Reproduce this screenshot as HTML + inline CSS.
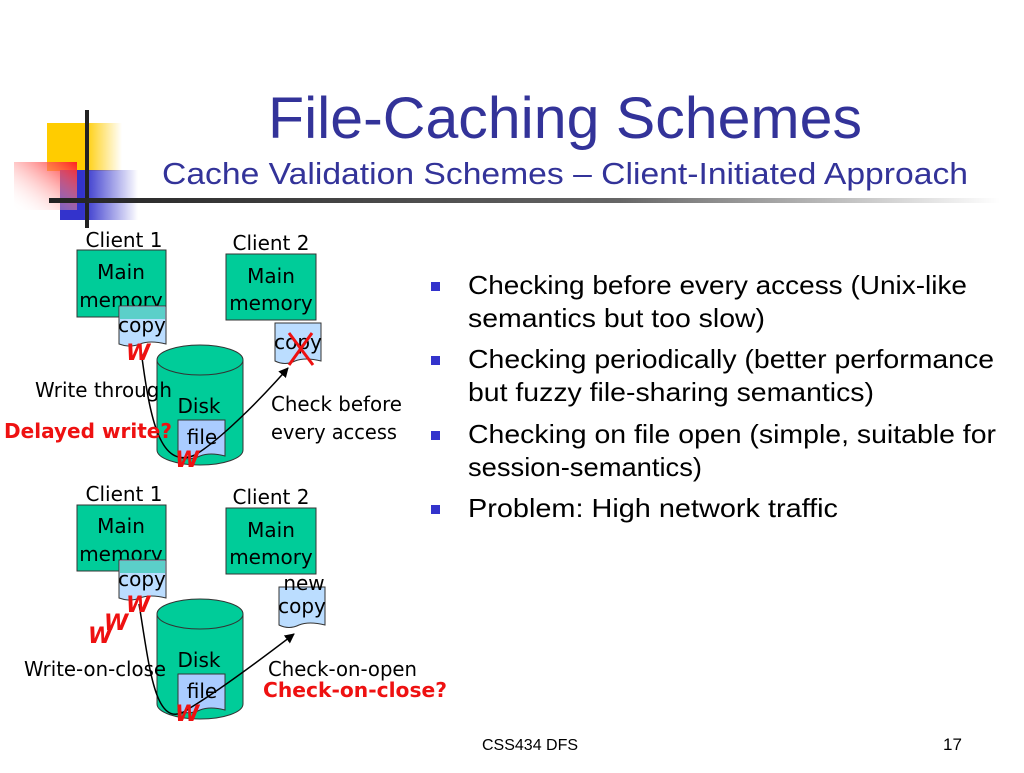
<!DOCTYPE html>
<html><head><meta charset="utf-8"><style>
body{margin:0;width:1024px;height:768px;background:#fff;overflow:hidden;font-family:"Liberation Sans",sans-serif}
</style></head><body>
<svg width="1024" height="768" xmlns="http://www.w3.org/2000/svg" font-family="Liberation Sans, sans-serif">
<defs>
<linearGradient id="gy" x1="0" x2="1"><stop offset="0.5" stop-color="#ffcc00"/><stop offset="1" stop-color="#ffcc00" stop-opacity="0"/></linearGradient>
<linearGradient id="gb" x1="0" x2="1"><stop offset="0.3" stop-color="#3333cc"/><stop offset="1" stop-color="#3333cc" stop-opacity="0"/></linearGradient>
<linearGradient id="gr" x1="1" y1="0" x2="0" y2="1"><stop offset="0" stop-color="#ff2020"/><stop offset="1" stop-color="#ffffff" stop-opacity="0"/></linearGradient>
<linearGradient id="gl" x1="0" x2="1"><stop offset="0" stop-color="#222"/><stop offset="0.6" stop-color="#666"/><stop offset="1" stop-color="#fff"/></linearGradient>
<marker id="ar" markerWidth="10" markerHeight="10" refX="9" refY="5" orient="auto" markerUnits="userSpaceOnUse"><path d="M0,0 L10,5 L0,10 z" fill="#000"/></marker>
</defs>
<rect x="47" y="123" width="75" height="48" fill="url(#gy)"/>
<rect x="60" y="170" width="78" height="50" fill="url(#gb)"/>
<rect x="14" y="162" width="63" height="48" fill="url(#gr)"/>
<rect x="85" y="110" width="4" height="118" fill="#222"/>
<rect x="49" y="198" width="951" height="5" fill="url(#gl)"/>
<text x="268" y="138" font-size="58" fill="#333399" textLength="594" lengthAdjust="spacingAndGlyphs">File-Caching Schemes</text>
<text x="162" y="184" font-size="31" fill="#333399" textLength="806" lengthAdjust="spacingAndGlyphs">Cache Validation Schemes – Client-Initiated Approach</text>

<g font-family="DejaVu Sans, sans-serif" font-size="20">
<text x="124" y="247" text-anchor="middle">Client 1</text>
<rect x="77" y="250" width="89" height="67" fill="#00cc99" stroke="#333"/>
<text x="121" y="279" text-anchor="middle">Main</text>
<text x="121" y="307" text-anchor="middle">memory</text>
<path d="M119,306 H166 V344 Q150,340 140,344 Q130,348 119,344 Z" fill="#bbddff" stroke="#333"/>
<rect x="120" y="307" width="45" height="12" fill="#44ccbb" opacity="0.8"/>
<text x="142" y="332" text-anchor="middle">copy</text>
<text x="271" y="250" text-anchor="middle">Client 2</text>
<rect x="226" y="254" width="90" height="66" fill="#00cc99" stroke="#333"/>
<text x="271" y="283" text-anchor="middle">Main</text>
<text x="271" y="310" text-anchor="middle">memory</text>
<path d="M275,323 H321 V361 Q305,357 295,361 Q285,366 275,361 Z" fill="#bbddff" stroke="#333"/>
<text x="298" y="349" text-anchor="middle">copy</text>
<path d="M289,333 L313,365 M312,333 L289,365" stroke="#ee1111" stroke-width="3"/>
<path d="M157,360 V450 A43,15 0 0 0 243,450 V360" fill="#00cc99" stroke="#333"/>
<ellipse cx="200" cy="360" rx="43" ry="15" fill="#00cc99" stroke="#333"/>
<text x="199" y="413" text-anchor="middle">Disk</text>
<path d="M178,420 H225 V456 Q210,452 200,456 Q190,461 178,457 Z" fill="#aaccff" stroke="#333"/>
<text x="202" y="444" text-anchor="middle">file</text>
<path d="M141,350 C150,420 160,470 195,455 C220,440 260,400 288,368" fill="none" stroke="#000" stroke-width="1.5" marker-end="url(#ar)"/>
<text x="35" y="397" textLength="137" lengthAdjust="spacingAndGlyphs">Write through</text>
<text x="4" y="438" font-weight="bold" fill="#ee1111" textLength="168" lengthAdjust="spacingAndGlyphs">Delayed write?</text>
<text x="271" y="411" textLength="131" lengthAdjust="spacingAndGlyphs">Check before</text>
<text x="271" y="439" textLength="126" lengthAdjust="spacingAndGlyphs">every access</text>
<text x="126" y="360" font-size="22" font-weight="bold" font-style="italic" fill="#ee1111">W</text>
<text x="175" y="467" font-size="22" font-weight="bold" font-style="italic" fill="#ee1111">W</text>

<text x="124" y="501" text-anchor="middle">Client 1</text>
<rect x="77" y="505" width="89" height="66" fill="#00cc99" stroke="#333"/>
<text x="121" y="533" text-anchor="middle">Main</text>
<text x="121" y="561" text-anchor="middle">memory</text>
<path d="M119,560 H166 V598 Q150,594 140,598 Q130,602 119,598 Z" fill="#bbddff" stroke="#333"/>
<rect x="120" y="561" width="45" height="12" fill="#44ccbb" opacity="0.8"/>
<text x="142" y="586" text-anchor="middle">copy</text>
<text x="271" y="504" text-anchor="middle">Client 2</text>
<rect x="226" y="508" width="90" height="66" fill="#00cc99" stroke="#333"/>
<text x="271" y="537" text-anchor="middle">Main</text>
<text x="271" y="564" text-anchor="middle">memory</text>
<path d="M279,587 H325 V625 Q309,621 299,625 Q289,630 279,625 Z" fill="#bbddff" stroke="#333"/>
<text x="304" y="590" text-anchor="middle">new</text>
<text x="302" y="613" text-anchor="middle">copy</text>
<path d="M157,614 V704 A43,15 0 0 0 243,704 V614" fill="#00cc99" stroke="#333"/>
<ellipse cx="200" cy="614" rx="43" ry="15" fill="#00cc99" stroke="#333"/>
<text x="199" y="667" text-anchor="middle">Disk</text>
<path d="M178,674 H225 V710 Q210,706 200,710 Q190,715 178,711 Z" fill="#aaccff" stroke="#333"/>
<text x="202" y="698" text-anchor="middle">file</text>
<path d="M139,604 C150,670 155,735 190,708 C220,690 260,660 294,634" fill="none" stroke="#000" stroke-width="1.5" marker-end="url(#ar)"/>
<text x="24" y="676" textLength="142" lengthAdjust="spacingAndGlyphs">Write-on-close</text>
<text x="268" y="676" textLength="149" lengthAdjust="spacingAndGlyphs">Check-on-open</text>
<text x="263" y="697" font-weight="bold" fill="#ee1111" textLength="184" lengthAdjust="spacingAndGlyphs">Check-on-close?</text>
<text x="126" y="612" font-size="22" font-weight="bold" font-style="italic" fill="#ee1111">W</text>
<text x="104" y="630" font-size="22" font-weight="bold" font-style="italic" fill="#ee1111">W</text>
<text x="88" y="643" font-size="22" font-weight="bold" font-style="italic" fill="#ee1111">W</text>
<text x="175" y="721" font-size="22" font-weight="bold" font-style="italic" fill="#ee1111">W</text>
</g>

<g font-size="26" fill="#000">
<rect x="431" y="282" width="9" height="9" fill="#3333cc"/>
<text x="468" y="294" textLength="499" lengthAdjust="spacingAndGlyphs">Checking before every access (Unix-like</text>
<text x="468" y="327" textLength="297" lengthAdjust="spacingAndGlyphs">semantics but too slow)</text>
<rect x="431" y="356" width="9" height="9" fill="#3333cc"/>
<text x="468" y="368" textLength="526" lengthAdjust="spacingAndGlyphs">Checking periodically (better performance</text>
<text x="468" y="401" textLength="406" lengthAdjust="spacingAndGlyphs">but fuzzy file-sharing semantics)</text>
<rect x="431" y="431" width="9" height="9" fill="#3333cc"/>
<text x="468" y="443" textLength="528" lengthAdjust="spacingAndGlyphs">Checking on file open (simple, suitable for</text>
<text x="468" y="476" textLength="234" lengthAdjust="spacingAndGlyphs">session-semantics)</text>
<rect x="431" y="505" width="9" height="9" fill="#3333cc"/>
<text x="468" y="517" textLength="370" lengthAdjust="spacingAndGlyphs">Problem: High network traffic</text>
</g>
<text x="482" y="750" font-size="16">CSS434 DFS</text>
<text x="943" y="750" font-size="17">17</text>
</svg>
</body></html>
